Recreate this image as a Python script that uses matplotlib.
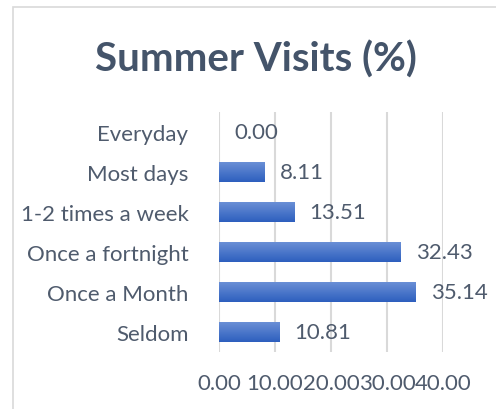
import matplotlib
matplotlib.use("Agg")
import matplotlib.pyplot as plt
import numpy as np
from matplotlib.patches import Rectangle
from matplotlib.colors import LinearSegmentedColormap

categories = ["Everyday", "Most days", "1-2 times a week", "Once a fortnight", "Once a Month", "Seldom"]
values = [0.00, 8.11, 13.51, 32.43, 35.14, 10.81]
xticks = [0, 10, 20, 30, 40]
title = "Summer Visits (%)"

W, H = 496, 410
fig = plt.figure(figsize=(W / 100, H / 100), dpi=100)
plt.rcParams['font.family'] = ['Lato', 'DejaVu Sans']

# chart frame
fig.patches.append(Rectangle((13 / W, -0.1), 1.2, 1 - 8 / H + 0.1, transform=fig.transFigure,
                             fill=False, edgecolor="#d9d9d9", linewidth=1.2))

ax = fig.add_axes([219 / W, 1 - 353 / H, (443 - 219) / W, (353 - 113) / H])
y = np.arange(len(categories))
bars = ax.barh(y, values, height=0.5, color="#4472C4", zorder=3)

cmap = LinearSegmentedColormap.from_list("g", ["#2d5fbe", "#6a8fd6"])
grad = np.linspace(0, 1, 100).reshape(-1, 1)
for b in bars:
    if b.get_width() <= 0:
        continue
    x0, y0 = b.get_x(), b.get_y()
    im = ax.imshow(grad, cmap=cmap, aspect="auto", origin="lower",
                   extent=(x0, x0 + b.get_width(), y0 + b.get_height(), y0), zorder=4)
    im.set_clip_path(b)

ax.set_xlim(0, 40)
ax.set_ylim(len(categories) - 0.5, -0.5)
ax.set_yticks(y)
ax.set_yticklabels(categories)
ax.set_xticks(xticks)
ax.set_xticklabels([f"{v:.2f}" for v in xticks])
tc = "#4f5b6d"
fs = 16
ax.tick_params(axis="y", length=0, pad=22, labelsize=fs, labelcolor=tc)
ax.tick_params(axis="x", length=0, pad=15, labelsize=fs, labelcolor=tc)
for s in ax.spines.values():
    s.set_visible(False)
ax.grid(axis="x", color="#d9d9d9", linewidth=1.5, zorder=0)
ax.set_axisbelow(True)

for yi, v in zip(y, values):
    ax.annotate(f"{v:.2f}", (v, yi), xytext=(15, 0), textcoords="offset pixels",
                va="center", ha="left", fontsize=fs, color=tc)

fig.text(256 / W, 1 - 60 / H, title, ha="center", va="center", fontsize=29,
         fontweight="bold", color="#44546A")

fig.savefig("out.png", dpi=100)
